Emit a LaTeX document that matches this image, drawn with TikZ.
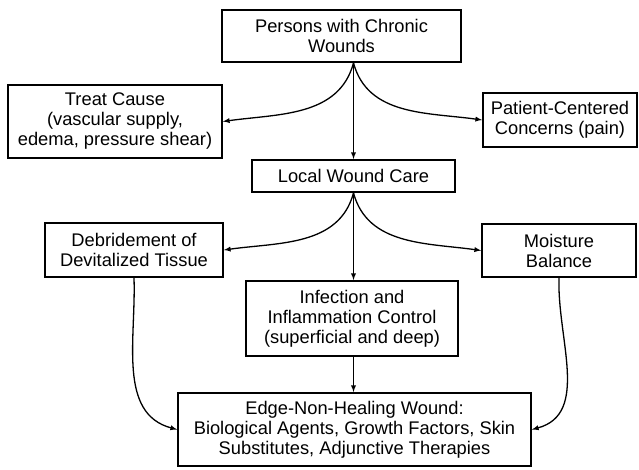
\documentclass[tikz,border=0pt]{standalone}
\usepackage{fontspec}
\setmainfont{Liberation Sans}
\usetikzlibrary{arrows, positioning, calc}

\begin{document}
\begin{tikzpicture}[x=1pt, y=-1pt,
    box/.style={rectangle, draw=black, line width=1.8pt, fill=white, align=center, inner sep=0pt, font=\fontsize{18.3}{20}\selectfont},
    link/.style={-latex, line width=1.3pt},
]
    \useasboundingbox (0,0) rectangle (639,469);
    \node[box, minimum width=239pt, minimum height=52pt] (persons) at (341.5,36) {Persons with Chronic\\Wounds};
    \node[box, minimum width=214pt, minimum height=73pt] (treat) at (115,121.5) {Treat Cause\\(vascular supply,\\edema, pressure shear)};
    \node[box, minimum width=154pt, minimum height=54pt] (patient) at (560,120) {Patient-Centered\\Concerns (pain)};
    \node[box, minimum width=203pt, minimum height=32pt] (local) at (353.5,176) {Local Wound Care};
    \node[box, minimum width=178pt, minimum height=54pt] (debride) at (134,250) {Debridement of\\Devitalized Tissue};
    \node[box, minimum width=212pt, minimum height=75pt] (infect) at (352,318.5) {Infection and\\Inflammation Control\\(superficial and deep)};
    \node[box, minimum width=154pt, minimum height=53pt] (moist) at (559,250.5) {Moisture\\Balance};
    \node[box, minimum width=353pt, minimum height=73pt] (edge) at (354.5,429.5) {Edge-Non-Healing Wound:\\Biological Agents, Growth Factors, Skin\\Substitutes, Adjunctive Therapies};

    % branch points
    \coordinate (split1) at (persons.south -| local.north);
    \coordinate (split2) at (local.south);

    \draw[link] (split1) to[out=-105, in=8] (treat.east);
    \draw[link] (split1) -- (local);
    \draw[link] (split1) to[out=-75, in=172] (patient.west);

    \draw[link] (split2) to[out=-105, in=8] (debride.east);
    \draw[link] (split2) -- (split2 |- infect.north);
    \draw[link] (split2) to[out=-75, in=172] (moist.west);

    \draw[link] (infect.south -| split2) -- (edge.north -| split2);
    \draw[link] (debride.south) to[out=-88, in=165] (edge.west);
    \draw[link] (moist.south) to[out=-92, in=15] (edge.east);
\end{tikzpicture}
\end{document}
